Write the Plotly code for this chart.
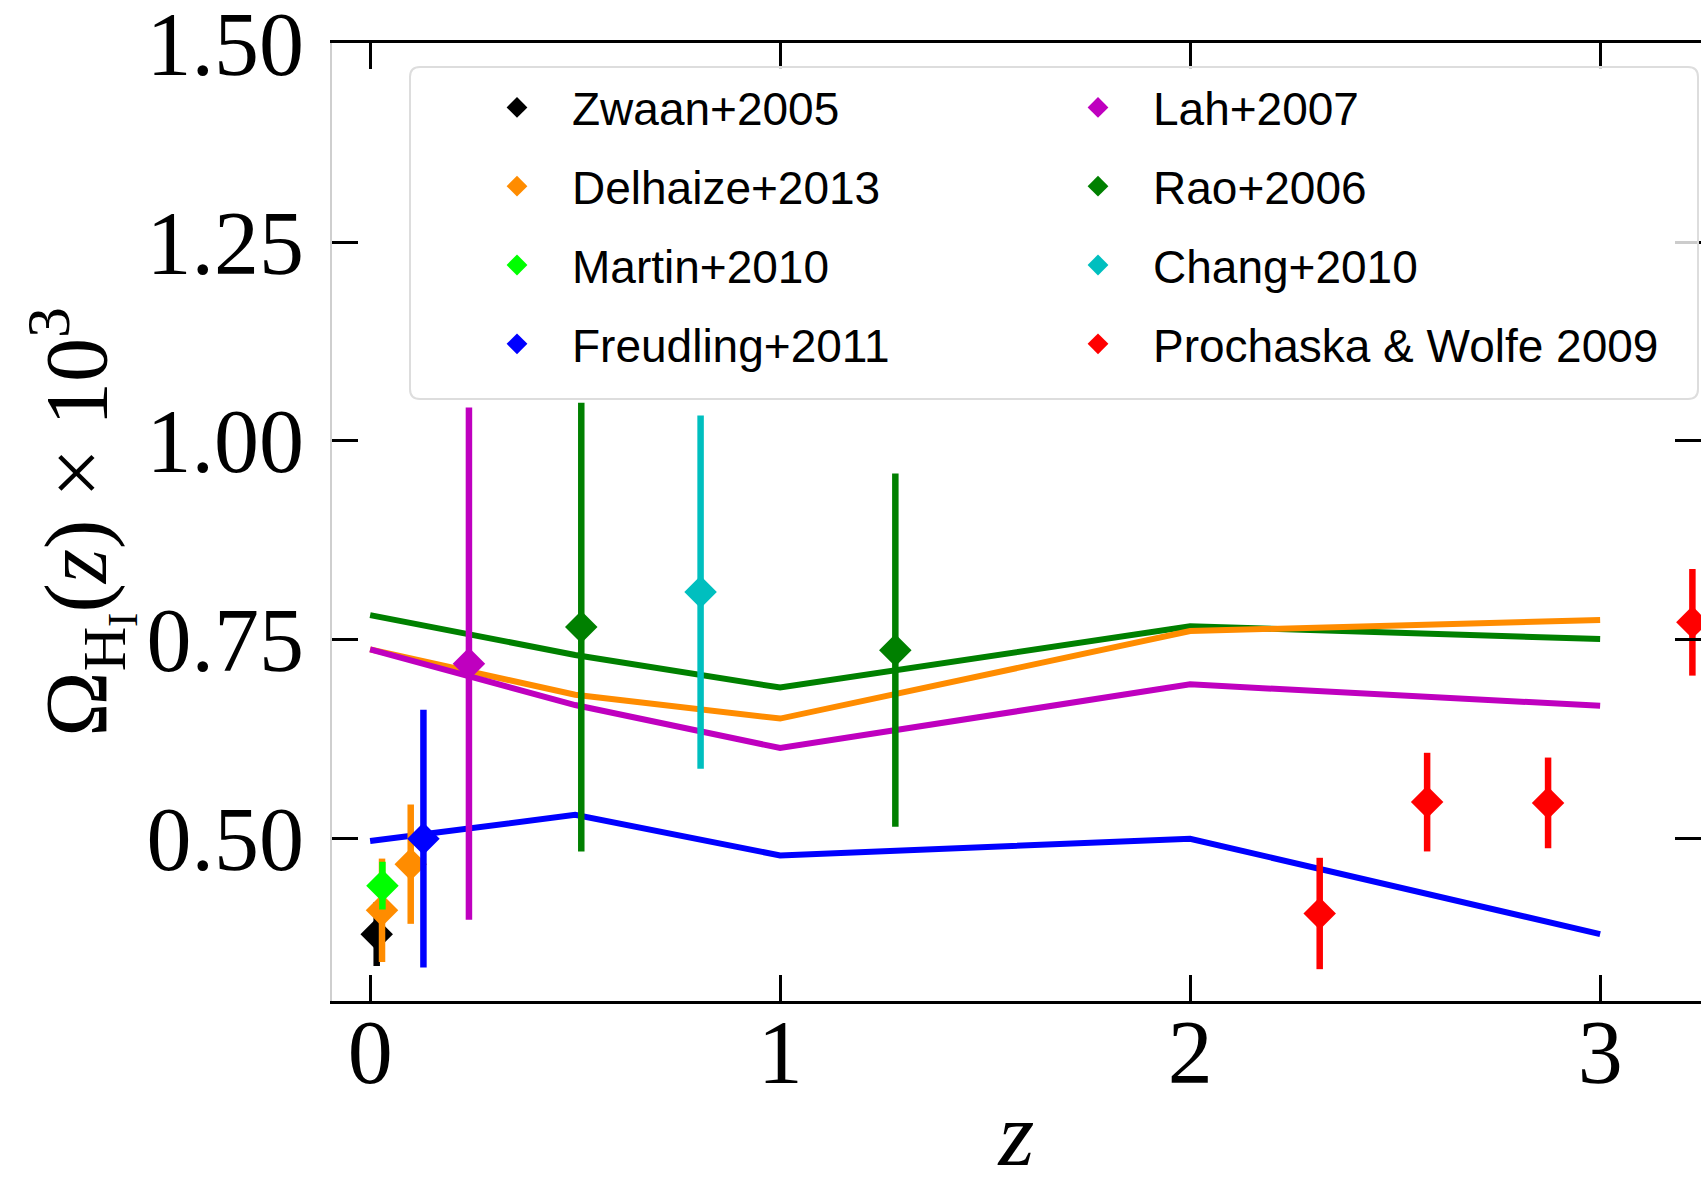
import plotly.graph_objects as go

# ---------------- data ----------------
z_model = [0.0, 0.5, 1.0, 2.0, 3.0]
model_rao = [0.781, 0.731, 0.690, 0.767, 0.751]
model_delhaize = [0.738, 0.681, 0.651, 0.761, 0.775]
model_lah = [0.738, 0.668, 0.614, 0.694, 0.667]
model_freudling = [0.497, 0.530, 0.479, 0.500, 0.380]

zwaan_z = [0.016]
zwaan_y = [0.380]
zwaan_err = [0.040]

delhaize_z = [0.029, 0.099]
delhaize_y = [0.410, 0.468]
delhaize_err = [0.065, 0.075]

martin_z = [0.030]
martin_y = [0.441]
martin_err = [0.030]

freudling_z = [0.130]
freudling_y = [0.500]
freudling_err = [0.162]

lah_z = [0.241]
lah_y = [0.720]
lah_err = [0.322]

rao_z = [0.515, 1.281]
rao_y = [0.766, 0.737]
rao_err = [0.282, 0.222]

chang_z = [0.806]
chang_y = [0.810]
chang_err = [0.222]

pw_z = [2.316, 2.578, 2.873, 3.225]
pw_y = [0.406, 0.546, 0.545, 0.772]
pw_err = [0.070, 0.062, 0.057, 0.067]

x_ticks = [0, 1, 2, 3]
y_ticks = [0.50, 0.75, 1.00, 1.25, 1.50]
y_ticklabels = ["0.50", "0.75", "1.00", "1.25", "1.50"]

# ---------------- figure ----------------
W, H = 1701, 1185
ML, MR, MT, MB = 332, 0, 43, 184
PW, PH = W - ML - MR, H - MT - MB

def px2paper_x(px):
    return (px - ML) / PW

def px2paper_y(py):
    return (H - MB - py) / PH

fig = go.Figure()

curves = [
    (model_rao, "#008000"),
    (model_delhaize, "#ff8c00"),
    (model_lah, "#bf00bf"),
    (model_freudling, "#0000ff"),
]
for ys, col in curves:
    fig.add_trace(go.Scatter(x=z_model, y=ys, mode="lines",
                             line=dict(color=col, width=6),
                             showlegend=False, hoverinfo="skip"))

datasets = [
    ("Zwaan+2005", zwaan_z, zwaan_y, zwaan_err, "#000000", "legend"),
    ("Delhaize+2013", delhaize_z, delhaize_y, delhaize_err, "#ff8c00", "legend"),
    ("Martin+2010", martin_z, martin_y, martin_err, "#00ff00", "legend"),
    ("Freudling+2011", freudling_z, freudling_y, freudling_err, "#0000ff", "legend"),
    ("Lah+2007", lah_z, lah_y, lah_err, "#bf00bf", "legend2"),
    ("Rao+2006", rao_z, rao_y, rao_err, "#008000", "legend2"),
    ("Chang+2010", chang_z, chang_y, chang_err, "#00bfbf", "legend2"),
    ("Prochaska &amp; Wolfe 2009", pw_z, pw_y, pw_err, "#ff0000", "legend2"),
]
for name, xs, ys, es, col, lg in datasets:
    fig.add_trace(go.Scatter(
        x=xs, y=ys, mode="markers", name=name,
        legend=lg, legendgroup=name,
        marker=dict(symbol="diamond", size=25, color=col, line=dict(width=0)),
        error_y=dict(type="data", array=es, visible=True, color=col,
                     thickness=6.5, width=0),
    ))

# legend frame (matplotlib-style box, drawn over the data)
bx0, bx1, by0, by1, r = 410, 1698, 67, 399, 10
X = lambda p: px2paper_x(p)
Y = lambda p: px2paper_y(p)
path = (f"M {X(bx0 + r)},{Y(by0)} L {X(bx1 - r)},{Y(by0)} Q {X(bx1)},{Y(by0)} {X(bx1)},{Y(by0 + r)} "
        f"L {X(bx1)},{Y(by1 - r)} Q {X(bx1)},{Y(by1)} {X(bx1 - r)},{Y(by1)} "
        f"L {X(bx0 + r)},{Y(by1)} Q {X(bx0)},{Y(by1)} {X(bx0)},{Y(by1 - r)} "
        f"L {X(bx0)},{Y(by0 + r)} Q {X(bx0)},{Y(by0)} {X(bx0 + r)},{Y(by0)} Z")
fig.add_shape(type="path", path=path, xref="paper", yref="paper",
              fillcolor="rgba(255,255,255,0.8)", line=dict(color="#dddddd", width=2),
              layer="above")

legend_common = dict(
    orientation="v", bgcolor="rgba(0,0,0,0)", borderwidth=0,
    font=dict(family="Liberation Sans", size=46, color="#000000"),
    tracegroupgap=16, xanchor="left", yanchor="top", itemwidth=100,
)

fig.update_layout(
    width=W, height=H,
    margin=dict(l=ML, r=MR, t=MT, b=MB, autoexpand=False),
    paper_bgcolor="white", plot_bgcolor="white",
    legend=dict(x=px2paper_x(462), y=px2paper_y(71), **legend_common),
    legend2=dict(x=px2paper_x(1043), y=px2paper_y(71), **legend_common),
    xaxis=dict(
        range=[-0.093, 3.246], tickvals=x_ticks, ticktext=[str(v) for v in x_ticks],
        ticks="inside", ticklen=26, tickwidth=3, tickcolor="black",
        showline=True, linecolor="black", linewidth=3, mirror="ticks",
        showgrid=False, zeroline=False,
        tickfont=dict(family="Liberation Serif", size=90, color="black"),
        ticklabelstandoff=-29,
        title=dict(text="<i>z</i>", standoff=84,
                   font=dict(family="Liberation Serif", size=92, color="black")),
    ),
    yaxis=dict(
        range=[0.296, 1.5002], tickvals=y_ticks, ticktext=y_ticklabels,
        ticks="inside", ticklen=26, tickwidth=3, tickcolor="black",
        showline=True, linecolor="#cfcfcf", linewidth=2, mirror="ticks",
        showgrid=False, zeroline=False, ticklabeloverflow="allow",
        tickfont=dict(family="Liberation Serif", size=90, color="black"),
        ticklabelstandoff=8,
        title=dict(text="Ω<sub>H<sub>I</sub></sub>(<i>z</i>) × 10<sup>3</sup>", standoff=0,
                   font=dict(family="Liberation Serif", size=88, color="black")),
    ),
)

fig.write_html("out.html")
